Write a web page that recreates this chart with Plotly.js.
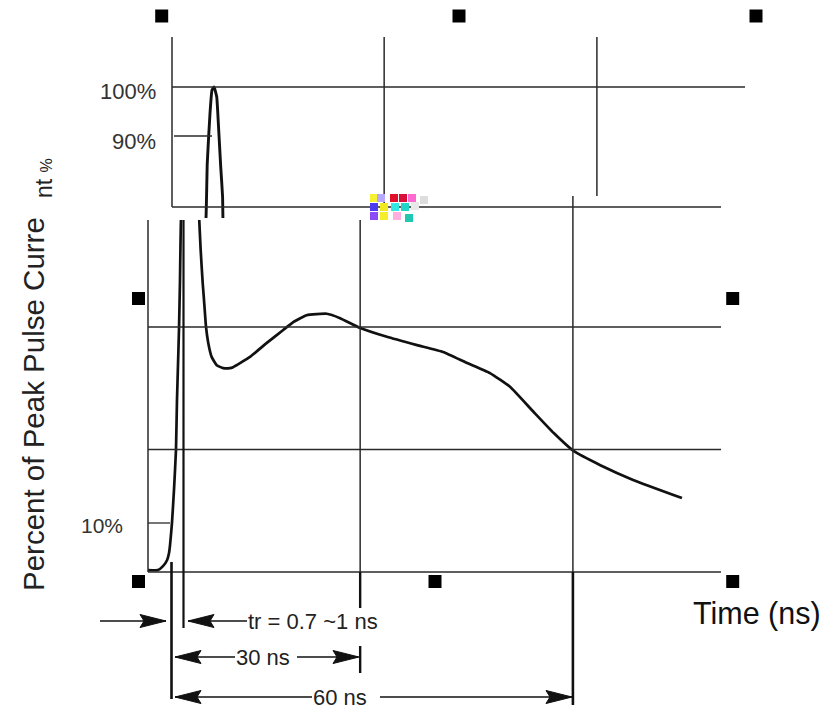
<!DOCTYPE html>
<html><head><meta charset="utf-8">
<script src="https://cdn.plot.ly/plotly-3.0.1.min.js"></script>
<style>html,body{margin:0;padding:0;background:#fff;}#chart{width:824px;height:711px;}</style>
</head><body><div id="chart"></div>
<script>
// ---- data: ESD current pulse, time in ns (0 = start of rise), current in % of peak ----
const pulseT = [-3.51,-2.02,-1.27,-0.67,-0.37,-0.22,0.07,0.37,0.67,0.82,1.12,1.27,1.42,1.57,1.76,2.17,2.47,2.77,3.17,3.41,3.77,4.05,4.10,4.15,4.36,4.66,4.86,5.16,5.50,6.00,6.76,7.74,8.74,9.20,11.73,14.20,16.70,18.20,20.20,23.20,25.20,28.20,32.20,36.70,40.60,44.10,47.60,50.60,54.10,57.10,60.10,64.10,69.00,76.30];
const pulseP = [0.4,0.4,1.2,2.4,3.9,5.5,10,16.7,24.9,35.1,49.4,59.6,71.8,73.3,84.5,94.7,99.4,100,98,92.7,83.7,77.6,73.3,71.8,65.7,59,55.5,50,46.7,43.9,42.2,41.6,41.6,41.8,43.9,46.7,49.4,51,52.4,52.7,51.8,49.8,48,46.3,44.9,42.7,40.6,37.8,32.7,28.4,24.7,21.8,18.8,15.1];

const mainGridP = [0, 25, 50];          // horizontal grid levels, main panel
const upperGridP = [100];               // horizontal grid level, upper panel
const gridT = [28.2, 60];               // vertical grid lines (ns)
const tickVals = [100, 90, 10];
const tickText = ["100%", "90%", "10%"];
const dimLabels = ["tr = 0.7 ~1 ns", "30 ns", "60 ns"];
const xTitle = "Time (ns)";
const yTitle = "Percent of Peak Pulse Curre";
const yTitleTail = "nt <span style='font-size:16px'>%</span>";

// ---- layout mapping (pixels) ----
const W = 824, H = 711;
const X0 = 171.5, SX = 6.69, Y0 = 572, SY = 4.9;   // main panel scale
const DX = 24, DY = 5;                             // upper panel offset
function xr(a, b, off) { return [(a - X0 - off) / SX, (b - X0 - off) / SX]; }
function yr(top, bot, off) { return [(Y0 + off - bot) / SY, (Y0 + off - top) / SY]; }
function dx(a, b) { return [a / W, b / W]; }
function dy(top, bot) { return [1 - bot / H, 1 - top / H]; }
const tx = px => (px - X0) / SX, py = y => (Y0 - y) / SY;   // overlay helpers
const ux = px => (px - X0 - DX) / SX, uy = y => (Y0 + DY - y) / SY;
const upToMain = p => p - DY / SY;                           // upper-panel value -> overlay y

const INK = '#111', GRID = '#2a2a2a';
const traces = [];

// the pulse, drawn in the main panel and again in the (offset) upper panel
traces.push({x: pulseT, y: pulseP, xaxis: 'x', yaxis: 'y', mode: 'lines',
  line: {color: INK, width: 2.7, shape: 'spline', smoothing: 0.4}, hoverinfo: 'skip'});
traces.push({x: pulseT, y: pulseP, xaxis: 'x2', yaxis: 'y2', mode: 'lines',
  line: {color: INK, width: 2.9, shape: 'spline', smoothing: 0.4}, hoverinfo: 'skip'});

function seg(xs, ys, ax, w, c) {
  traces.push({x: xs, y: ys, xaxis: 'x' + ax, yaxis: 'y' + ax, mode: 'lines',
    line: {color: c || GRID, width: w}, hoverinfo: 'skip'});
}

// ---- upper panel frame & grid (axes x2/y2) ----
seg([ux(172), ux(172)], [uy(37), uy(207)], 2, 1.5);
seg([ux(172), ux(721)], [uy(207), uy(207)], 2, 1.5);
upperGridP.forEach(p => seg([ux(172), ux(745)], [p, p], 2, 1.5));
gridT.forEach((t, i) => seg([t, t], [uy(37), uy(i === 1 ? 196 : 207)], 2, 1.5));
seg([ux(174), ux(212)], [90, 90], 2, 1.3);

// ---- main panel frame & grid (overlay axes x3/y3, main scale) ----
seg([tx(148), tx(148)], [py(220), 0], 3, 1.5);
mainGridP.forEach(p => seg([tx(148), tx(721)], [p, p], 3, 1.5));
seg([gridT[0], gridT[0]], [py(220), py(608)], 3, 1.5);
seg([gridT[0], gridT[0]], [py(572), py(608)], 3, 2.4, INK);
seg([gridT[0], gridT[0]], [py(646), py(673)], 3, 2.4, INK);
seg([gridT[1], gridT[1]], [py(196), py(572)], 3, 1.5);
seg([gridT[1], gridT[1]], [py(572), py(705)], 3, 2.6, INK);
seg([tx(148), tx(170)], [10, 10], 3, 1.3);
seg([0, 0], [py(562), py(699)], 3, 2.6, INK);        // t = 0 dimension line
seg([tx(183.5), tx(183.5)], [py(220), py(628)], 3, 2.2, INK); // tr dimension line

// ---- dimension arrows ----
const rows = [py(621), py(657), py(697)];
seg([tx(100), tx(166)], [rows[0], rows[0]], 3, 1.4, INK);
seg([tx(188), tx(247)], [rows[0], rows[0]], 3, 1.4, INK);
seg([tx(175), tx(235)], [rows[1], rows[1]], 3, 1.4, INK);
seg([tx(297), tx(358)], [rows[1], rows[1]], 3, 1.4, INK);
seg([tx(175), tx(312)], [rows[2], rows[2]], 3, 1.4, INK);
seg([tx(380), tx(572)], [rows[2], rows[2]], 3, 1.4, INK);
const heads = [[tx(166), rows[0], 1], [tx(188), rows[0], -1], [tx(175), rows[1], -1],
               [tx(359), rows[1], 1], [tx(175), rows[2], -1], [tx(572), rows[2], 1]];
const L = 26 / SX, h = 6.5 / SY, notch = 4 / SX;
const hx = [], hy = [];
heads.forEach(([t, p, d]) => {
  hx.push(t, t - d * L, t - d * (L - notch), t - d * L, t, null);
  hy.push(p, p + h, p, p - h, p, null);
});
traces.push({x: hx, y: hy, xaxis: 'x3', yaxis: 'y3', mode: 'lines', fill: 'toself',
  fillcolor: INK, line: {color: INK, width: 1}, hoverinfo: 'skip'});

// ---- selection handles ----
traces.push({x: [tx(161.7), tx(459), tx(756), tx(138.5), tx(732.7), tx(138.5), tx(435), tx(732.7)],
  y: [py(16), py(16), py(16), py(298.5), py(298.5), py(581.5), py(581.5), py(581.5)],
  xaxis: 'x3', yaxis: 'y3', mode: 'markers', cliponaxis: false,
  marker: {symbol: 'square', size: 13, color: '#000'}, hoverinfo: 'skip'});

// ---- broken thumbnail artefact ----
const noise = [[374,198,'#f5f032'],[381,198,'#b7a8ff'],[394,198,'#e0102a'],[403,198,'#d8103a'],[412,198,'#ff6ad0'],[424,200,'#dddddd'],
               [374,207,'#4b3cf0'],[384,207,'#f2ea20'],[395,207,'#33e8e0'],[405,207,'#22d6c8'],[415,206,'#e8e8e8'],
               [374,216,'#8a4cf5'],[384,216,'#f4ef2a'],[397,216,'#ffb0e0'],[409,218,'#20c8b0']];
traces.push({x: noise.map(n => tx(n[0])), y: noise.map(n => py(n[1])), xaxis: 'x3', yaxis: 'y3',
  mode: 'markers', marker: {symbol: 'square', size: 8, color: noise.map(n => n[2])}, hoverinfo: 'skip'});

const F = 'Liberation Sans, Arial, sans-serif';
const ann = [];
function txt(text, x, y, ax, opts) {
  ann.push(Object.assign({text, x, y, xref: 'x' + ax, yref: 'y' + ax, showarrow: false,
    font: {family: F, size: 22, color: '#222'}}, opts || {}));
}
// upper-panel tick labels, placed on the overlay using the upper panel's offset
txt(tickText[0], tx(158), upToMain(tickVals[0]), 3, {xanchor: 'right', yshift: -4, font: {family: F, size: 22, color: '#333'}});
txt(tickText[1], tx(158), upToMain(tickVals[1]), 3, {xanchor: 'right', yshift: -5, font: {family: F, size: 22, color: '#333'}});
txt(tickText[2], tx(125), tickVals[2], 3, {xanchor: 'right', yshift: -2, font: {family: F, size: 21, color: '#333'}});
txt(dimLabels[0], tx(246), rows[0], 3, {xanchor: 'left'});
txt(dimLabels[1], tx(234), rows[1], 3, {xanchor: 'left'});
txt(dimLabels[2], tx(311), rows[2], 3, {xanchor: 'left'});
txt(xTitle, tx(691), py(613), 3, {xanchor: 'left', font: {family: F, size: 30.5, color: '#111'}});
txt(yTitle, tx(33), py(404), 3, {textangle: -90, font: {family: F, size: 29.5, color: '#222'}});
txt(yTitleTail, tx(44), py(178), 3, {textangle: -90, font: {family: F, size: 23, color: '#222'}});

const hid = {visible: false, fixedrange: true};
const layout = {
  width: W, height: H, margin: {l: 0, r: 0, t: 0, b: 0},
  paper_bgcolor: '#fff', plot_bgcolor: 'rgba(0,0,0,0)', showlegend: false,
  xaxis:  Object.assign({domain: dx(148, 721), range: xr(148, 721, 0), anchor: 'y'}, hid),
  yaxis:  Object.assign({domain: dy(220, 574), range: yr(220, 574, 0), anchor: 'x'}, hid),
  xaxis2: Object.assign({domain: dx(170, 747), range: xr(170, 747, DX), anchor: 'y2'}, hid),
  yaxis2: Object.assign({domain: dy(35, 218), range: yr(35, 218, DY), anchor: 'x2'}, hid),
  xaxis3: Object.assign({domain: [0, 1], range: xr(0, W, 0), anchor: 'y3'}, hid),
  yaxis3: Object.assign({domain: [0, 1], range: yr(0, H, 0), anchor: 'x3'}, hid),
  annotations: ann
};
Plotly.newPlot('chart', traces, layout, {staticPlot: true, displayModeBar: false});
</script></body></html>
